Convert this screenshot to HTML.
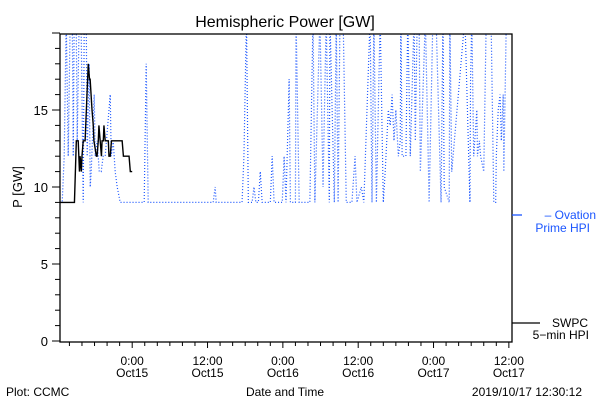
<!DOCTYPE html>
<html><head><meta charset="utf-8">
<style>
body{margin:0;background:#fff;}
svg{display:block;font-family:"Liberation Sans",sans-serif;}
</style></head>
<body>
<svg id="chart" width="600" height="400" viewBox="0 0 600 400">
<defs><clipPath id="plotclip"><rect x="60" y="34" width="452" height="308"/></clipPath></defs>
<text x="285" y="27" font-size="16" text-anchor="middle">Hemispheric Power [GW]</text>
<text transform="translate(22,187) rotate(-90)" font-size="13" text-anchor="middle">P [GW]</text>
<text x="285" y="396" font-size="12" text-anchor="middle">Date and Time</text>
<text x="6" y="396" font-size="12">Plot: CCMC</text>
<text x="582" y="396" font-size="12" text-anchor="end">2019/10/17 12:30:12</text>
<g id="axes"></g>
<g id="series" clip-path="url(#plotclip)"></g>
<rect x="60" y="34" width="452" height="308" fill="none" stroke="#000" stroke-width="1.3"/>
<g>
<line x1="512" y1="215" x2="522" y2="215" stroke="#1a55ff" stroke-width="1.3"/>
<text x="596" y="219" font-size="12" fill="#1a55ff" text-anchor="end">– Ovation</text>
<text x="590" y="232" font-size="12" fill="#1a55ff" text-anchor="end">Prime HPI</text>
</g>
<g>
<line x1="512" y1="323" x2="540" y2="323" stroke="#000" stroke-width="1.3"/>
<text x="588" y="327" font-size="12" text-anchor="end">SWPC</text>
<text x="589" y="339" font-size="12" text-anchor="end">5−min HPI</text>
</g>
</svg>
<script>
const yTicks=[0,5,10,15];
const xTickHours=[0,12,24,36,48,60];
const xTickTimes=["0:00","12:00","0:00","12:00","0:00","12:00"];
const xTickDays=["Oct15","Oct15","Oct16","Oct16","Oct17","Oct17"];
const swpcHours=[-11.5,-9.2,-8.9,-8.6,-8.4,-8.3,-8.1,-8.0,-7.8,-7.5,-7.3,-7.0,-6.8,-6.7,-6.4,-6.2,-6.1,-5.7,-5.6,-5.4,-5.3,-5.1,-4.9,-4.8,-4.6,-4.5,-4.3,-3.8,-3.7,-3.5,-3.3,-1.6,-1.4,-0.5,-0.3,0.0];
const swpcValues=[9,9,13,13,11,12,11,12,13,13,15,18,17,17,15,14,13,12,12,13,14,13,12,13,13,14,13,13,12,12,13,13,12,12,11,11];
const ovHours=[-11.46,-11.15,-10.83,-10.51,-10.19,-9.87,-9.55,-9.39,-9.24,-8.92,-8.76,-8.44,-8.12,-7.80,-7.64,-7.32,-7.17,-6.85,-6.69,-6.53,-6.05,-5.89,-5.57,-5.25,-4.94,-4.62,-4.30,-3.50,-3.34,-3.03,-2.71,-2.39,-1.91,-1.11,1.91,2.23,2.55,12.9,13.22,13.38,
17.5,17.8,18.2,18.5,19.1,19.4,19.7,20.1,20.4,20.7,21.0,21.3,22.0,22.3,22.6,22.9,23.9,24.2,24.5,25.0,25.2,25.6,26.0,26.1,26.6,28.3,28.8,29.1,29.9,30.4,30.9,31.4,31.5,32.2,32.5,32.8,33.1,33.6,34.1,35.0,35.5,35.8,36.5,36.9,37.9,38.2,38.5,38.9,39.5,40.0,40.3,40.8,41.1,41.4,41.7,42.0,42.4,42.7,42.8,43.0,43.6,43.9,44.3,44.9,45.1,45.4,45.7,45.9,46.7,47.3,47.9,48.4,49.2,49.5,49.7,50.5,50.6,50.9,53.0,53.8,53.9,54.1,54.4,54.9,55.0,55.3,55.5,56.0,56.4,56.8,57.2,57.6,57.9,58.0,58.3,58.6,58.8,59.1,59.2,59.6,59.9,60.0];
const ovValues=[9,9,12,21,12,21,21,12,21,21,13,21,20,9,21,21,12,18,10,11,16,12,13,11,11,12,12,16,12,13,11,10,9,9,9,18,9,9,10,9,
9,12,21,9,9,10,9,9,11,9,9,9,9,12,9,9,9,12,9,17,9,9,9,21,9,9,21,9,21,10,21,9,21,9,21,9,21,21,9,9,12,9,10,9,21,9,21,9,21,9,11,15,14,16,13,15,12,13,21,12,12,21,12,21,13,21,21,11,21,9,21,21,9,21,10,9,21,11,21,9,17,21,12,15,12,13,12,11,21,21,20,9,9,12,15,16,13,16,11,21,21,20];

const X0=60,X1=512,Y0=341,Y1=33,H0=-11.5,H1=60.5,V0=0,V1=20;
const xs=h=>X0+(h-H0)/(H1-H0)*(X1-X0);
const ys=v=>Y0-(v-V0)/(V1-V0)*(Y0-Y1);
const NS="http://www.w3.org/2000/svg";
const axes=document.getElementById('axes');
const series=document.getElementById('series');
function mk(tag,attrs,parent){const e=document.createElementNS(NS,tag);for(const k in attrs)e.setAttribute(k,attrs[k]);parent.appendChild(e);return e;}
// y ticks
for(let v=0;v<=20;v++){
  const t=mk('line',{x1:X0-(v%5===0?8:5),x2:X0,y1:ys(v),y2:ys(v),stroke:'#000','stroke-width':1},axes);
  
  
}
yTicks.forEach(v=>{
  const t=mk('text',{x:X0-12,y:ys(v)+5,'font-size':13,'text-anchor':'end'},axes);
  t.textContent=v;
  
  
});
// x ticks
for(let h=-10;h<=60;h+=2){
  const major=h%12===0;
  const t=mk('line',{x1:xs(h),x2:xs(h),y1:Y0+1,y2:Y0+(major?7:5),stroke:'#000','stroke-width':1},axes);
  
  
}
xTickHours.forEach((h,i)=>{
  const t=mk('text',{x:xs(h),y:Y0+24,'font-size':12,'text-anchor':'middle'},axes);
  t.textContent=xTickTimes[i];
  
  
  const d=mk('text',{x:xs(h),y:Y0+36,'font-size':12,'text-anchor':'middle'},axes);
  d.textContent=xTickDays[i];
  
  
});
// series
const ov=mk('polyline',{points:ovHours.map((h,i)=>xs(h)+','+ys(ovValues[i])).join(' '),fill:'none',stroke:'#1a55ff','stroke-width':1.2,'stroke-dasharray':'1 2'},series);


const sw=mk('polyline',{points:swpcHours.map((h,i)=>xs(h)+','+ys(swpcValues[i])).join(' '),fill:'none',stroke:'#000','stroke-width':1.4},series);


</script>
</body></html>
